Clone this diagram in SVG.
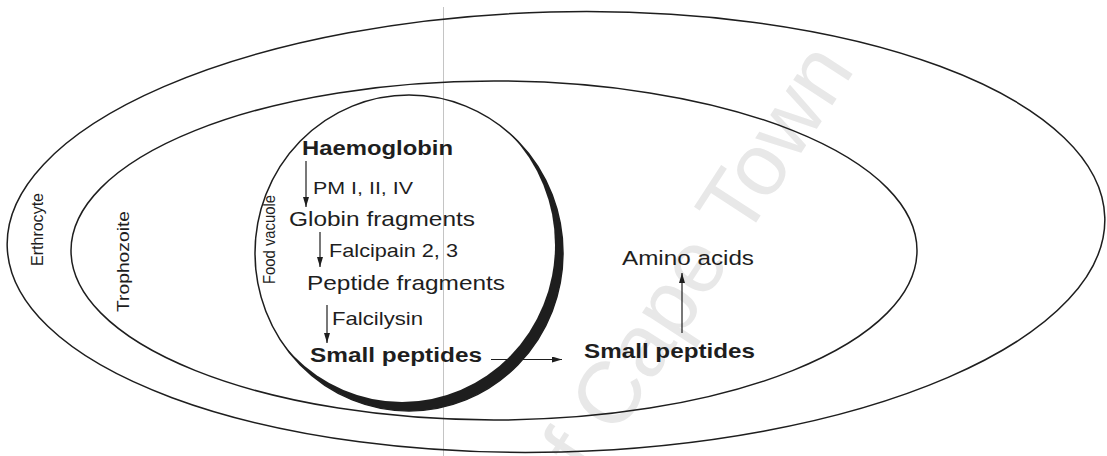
<svg xmlns="http://www.w3.org/2000/svg" width="1107" height="456" viewBox="0 0 1107 456">
<style>
.ln{fill:none;stroke:#1e1e1e;stroke-width:1.5}
.t{font-family:"Liberation Sans",Arial,sans-serif;fill:#1e1e1e}
.b{font-weight:bold}
.ar{fill:none;stroke:#1e1e1e;stroke-width:1.2;marker-end:url(#ah)}
.wm{font-family:"Liberation Sans",Arial,sans-serif;fill:#e8e8e8}
</style>
<defs>
<marker id="ah" viewBox="0 0 10 10" refX="10" refY="5" markerWidth="10" markerHeight="6" orient="auto" markerUnits="userSpaceOnUse" preserveAspectRatio="none">
<path d="M0,0 L10,5 L0,10 z" fill="#1e1e1e"/>
</marker>
<mask id="cres">
<rect x="0" y="0" width="1107" height="456" fill="#000"/>
<ellipse cx="409" cy="253" rx="154" ry="158" fill="#fff"/>
<ellipse cx="402" cy="245" rx="153" ry="157" fill="#000"/>
</mask>
</defs>
<rect width="1107" height="456" fill="#fff"/>
<text class="wm" font-size="88" transform="translate(590,478) rotate(-57)">f Cape Town</text>
<line x1="443.5" y1="7" x2="443.5" y2="456" stroke="#c4c4c4" stroke-width="1"/>
<g id="erythrocyte">
<ellipse class="ln" cx="556" cy="232" rx="549" ry="220" transform="rotate(-1.5 556 232)"/>
<text class="t" font-size="16" textLength="73" lengthAdjust="spacingAndGlyphs" transform="translate(43,266) rotate(-90)">Erthrocyte</text>
</g>
<g id="trophozoite">
<ellipse class="ln" cx="494" cy="250.5" rx="423" ry="169.5"/>
<text class="t" font-size="17" textLength="101" lengthAdjust="spacingAndGlyphs" transform="translate(129,312) rotate(-90)">Trophozoite</text>
</g>
<g id="food-vacuole">
<ellipse class="ln" cx="409" cy="253" rx="154" ry="158" stroke-width="1.3"/>
<rect x="240" y="80" width="340" height="350" fill="#1e1e1e" mask="url(#cres)"/>
<text class="t" font-size="16" textLength="89" lengthAdjust="spacingAndGlyphs" transform="translate(275,284) rotate(-90)">Food vacuole</text>
</g>
<g id="haemoglobin"><text class="t b" x="302" y="155" font-size="20" textLength="151" lengthAdjust="spacingAndGlyphs">Haemoglobin</text></g>
<g id="pm"><text class="t" x="313" y="194" font-size="17" textLength="100" lengthAdjust="spacingAndGlyphs">PM I, II, IV</text></g>
<g id="globin"><text class="t" x="289" y="226" font-size="21" textLength="186" lengthAdjust="spacingAndGlyphs">Globin fragments</text></g>
<g id="falcipain"><text class="t" x="329" y="257" font-size="18.5" textLength="129" lengthAdjust="spacingAndGlyphs">Falcipain 2, 3</text></g>
<g id="peptide"><text class="t" x="307" y="290" font-size="21" textLength="198" lengthAdjust="spacingAndGlyphs">Peptide fragments</text></g>
<g id="falcilysin"><text class="t" x="332" y="325" font-size="18.5" textLength="91" lengthAdjust="spacingAndGlyphs">Falcilysin</text></g>
<g id="small-in"><text class="t b" x="310" y="362" font-size="20" textLength="172" lengthAdjust="spacingAndGlyphs">Small peptides</text></g>
<g id="small-out"><text class="t b" x="584" y="358" font-size="21" textLength="171" lengthAdjust="spacingAndGlyphs">Small peptides</text></g>
<g id="amino"><text class="t" x="622" y="265" font-size="20.5" textLength="132" lengthAdjust="spacingAndGlyphs">Amino acids</text></g>
<g id="connectors">
<line class="ar" x1="306" y1="161" x2="306" y2="207"/>
<line class="ar" x1="320" y1="232" x2="320" y2="267"/>
<line class="ar" x1="327" y1="305" x2="327" y2="343"/>
<line class="ar" x1="491" y1="359.5" x2="562" y2="359.5"/>
<line class="ar" x1="682" y1="333" x2="682" y2="273"/>
</g>
</svg>
